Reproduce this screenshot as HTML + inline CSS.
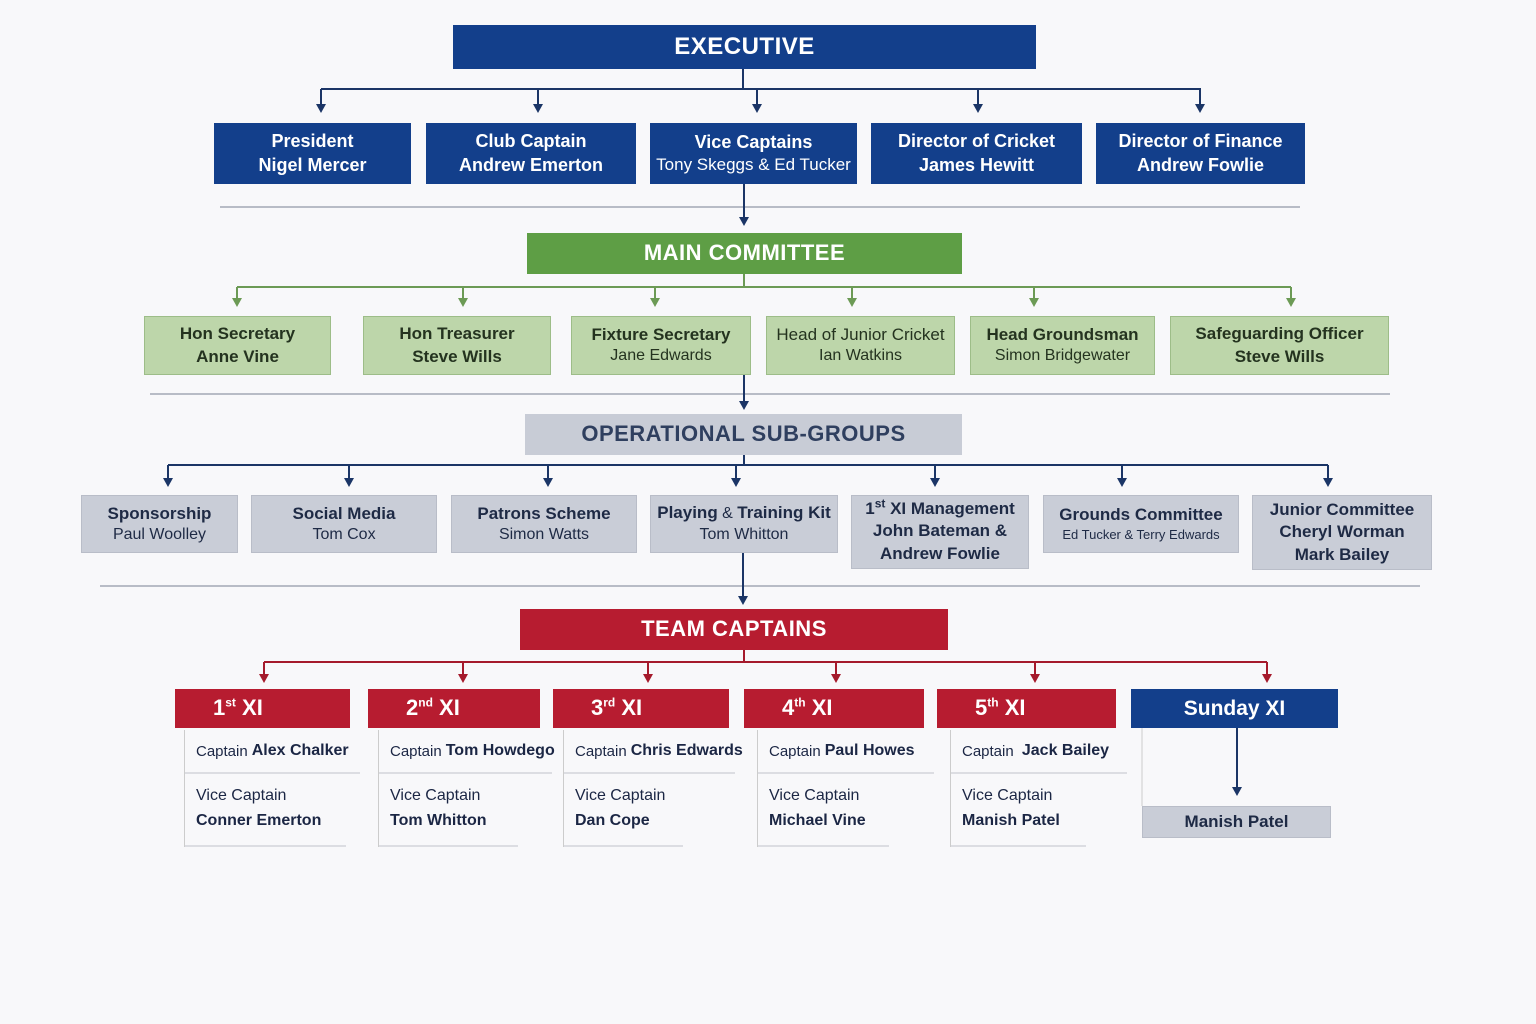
<!DOCTYPE html>
<html><head><meta charset="utf-8"><style>
body{margin:0;width:1536px;height:1024px;background:#f8f8fa;font-family:"Liberation Sans",sans-serif;position:relative;overflow:hidden}
.b{position:absolute;box-sizing:border-box;display:flex;flex-direction:column;align-items:center;justify-content:center;text-align:center;line-height:1.3}
.n{background:#133f8b;color:#fff;font-size:17px}
.n b{font-size:18px}
.g{background:#bdd6aa;border:1px solid #9dbd88;color:#24331f;font-size:16px}
.g b{font-size:17px}
.s{background:#c9cdd7;border:1px solid #b9bdc8;color:#1e2a45;font-size:16px}
.s b{font-size:17px}
.s small{font-size:13px;line-height:1.35}
.h{font-weight:bold;letter-spacing:0.5px}
.r{background:#b71c30;color:#fff;font-size:22px;font-weight:bold;align-items:flex-start;padding-left:38px}
sup{font-size:12px;line-height:0}
.c{position:absolute;box-sizing:border-box;border-left:1px solid #ccc;color:#1b2644;font-size:15px}
.c .t{height:42px;border-bottom:2px solid #dcdde2;display:flex;align-items:center;padding-left:11px;white-space:nowrap}
.c .t b{font-size:16px;margin-left:4px}
.c .v{height:62px;border-bottom:2px solid #dcdde2;padding:9px 0 0 11px;line-height:25px;font-size:16px}
</style></head><body>
<svg width="1536" height="1024" style="position:absolute;left:0;top:0">
<g stroke="#b8bcc6" stroke-width="2">
<path d="M220 207H1300M150 394H1390M100 586H1420"/>
</g>
<g stroke="#1b3566" stroke-width="2" fill="none">
<path d="M743 69V89M321 89H1201M321 89V106M538 89V106M757 89V106M978 89V106M1200 89V106"/>
<path d="M744 184V219M744 375V403M744 455V465M168 465H1328M168 465V480M349 465V480M548 465V480M736 465V480M935 465V480M1122 465V480M1328 465V480M743 553V598M1237 728V789"/>
</g>
<g fill="#1b3566">
<path d="M316 104h10l-5 9z"/><path d="M533 104h10l-5 9z"/><path d="M752 104h10l-5 9z"/><path d="M973 104h10l-5 9z"/><path d="M1195 104h10l-5 9z"/>
<path d="M739 217h10l-5 9z"/><path d="M739 401h10l-5 9z"/>
<path d="M163 478h10l-5 9z"/><path d="M344 478h10l-5 9z"/><path d="M543 478h10l-5 9z"/><path d="M731 478h10l-5 9z"/><path d="M930 478h10l-5 9z"/><path d="M1117 478h10l-5 9z"/><path d="M1323 478h10l-5 9z"/>
<path d="M738 596h10l-5 9z"/><path d="M1232 787h10l-5 9z"/>
</g>
<g stroke="#6c9a55" stroke-width="2" fill="none">
<path d="M744 274V287M237 287H1291M237 287V300M463 287V300M655 287V300M852 287V300M1034 287V300M1291 287V300"/>
</g>
<g fill="#6c9a55">
<path d="M232 298h10l-5 9z"/><path d="M458 298h10l-5 9z"/><path d="M650 298h10l-5 9z"/><path d="M847 298h10l-5 9z"/><path d="M1029 298h10l-5 9z"/><path d="M1286 298h10l-5 9z"/>
</g>
<g stroke="#a51a2c" stroke-width="2" fill="none">
<path d="M744 650V662M264 662H1267M264 662V676M463 662V676M648 662V676M836 662V676M1035 662V676M1267 662V676"/>
</g>
<g fill="#a51a2c">
<path d="M259 674h10l-5 9z"/><path d="M458 674h10l-5 9z"/><path d="M643 674h10l-5 9z"/><path d="M831 674h10l-5 9z"/><path d="M1030 674h10l-5 9z"/><path d="M1262 674h10l-5 9z"/>
</g>
<path d="M1142 728V806" stroke="#ccc" stroke-width="1"/>
</svg>

<div class="b n h" style="left:453px;top:25px;width:583px;height:44px;font-size:24px">EXECUTIVE</div>
<div class="b n" style="left:214px;top:123px;width:197px;height:61px"><b>President</b><b>Nigel Mercer</b></div>
<div class="b n" style="left:426px;top:123px;width:210px;height:61px"><b>Club Captain</b><b>Andrew Emerton</b></div>
<div class="b n" style="left:650px;top:123px;width:207px;height:61px"><b>Vice Captains</b><span>Tony Skeggs &amp; Ed Tucker</span></div>
<div class="b n" style="left:871px;top:123px;width:211px;height:61px"><b>Director of Cricket</b><b>James Hewitt</b></div>
<div class="b n" style="left:1096px;top:123px;width:209px;height:61px"><b>Director of Finance</b><b>Andrew Fowlie</b></div>

<div class="b h" style="left:527px;top:233px;width:435px;height:41px;background:#5e9e45;color:#fff;font-size:22px">MAIN COMMITTEE</div>
<div class="b g" style="left:144px;top:316px;width:187px;height:59px"><b>Hon Secretary</b><b>Anne Vine</b></div>
<div class="b g" style="left:363px;top:316px;width:188px;height:59px"><b>Hon Treasurer</b><b>Steve Wills</b></div>
<div class="b g" style="left:571px;top:316px;width:180px;height:59px"><b>Fixture Secretary</b><span>Jane Edwards</span></div>
<div class="b g" style="left:766px;top:316px;width:189px;height:59px"><span style="font-size:17px">Head of Junior Cricket</span><span>Ian Watkins</span></div>
<div class="b g" style="left:970px;top:316px;width:185px;height:59px"><b>Head Groundsman</b><span>Simon Bridgewater</span></div>
<div class="b g" style="left:1170px;top:316px;width:219px;height:59px"><b>Safeguarding Officer</b><b>Steve Wills</b></div>

<div class="b h" style="left:525px;top:414px;width:437px;height:41px;background:#c8ccd6;color:#2f3f5f;font-size:22px">OPERATIONAL SUB-GROUPS</div>
<div class="b s" style="left:81px;top:495px;width:157px;height:58px"><b>Sponsorship</b><span>Paul Woolley</span></div>
<div class="b s" style="left:251px;top:495px;width:186px;height:58px"><b>Social Media</b><span>Tom Cox</span></div>
<div class="b s" style="left:451px;top:495px;width:186px;height:58px"><b>Patrons Scheme</b><span>Simon Watts</span></div>
<div class="b s" style="left:650px;top:495px;width:188px;height:58px"><span><b>Playing</b> &amp; <b>Training Kit</b></span><span>Tom Whitton</span></div>
<div class="b s" style="left:851px;top:495px;width:178px;height:74px"><b>1<sup>st</sup> XI Management</b><small><b>John Bateman &amp;<br>Andrew Fowlie</b></small></div>
<div class="b s" style="left:1043px;top:495px;width:196px;height:58px"><b>Grounds Committee</b><small>Ed Tucker &amp; Terry Edwards</small></div>
<div class="b s" style="left:1252px;top:495px;width:180px;height:75px"><b>Junior Committee</b><small><b>Cheryl Worman<br>Mark Bailey</b></small></div>

<div class="b h" style="left:520px;top:609px;width:428px;height:41px;background:#b71c30;color:#fff;font-size:22px">TEAM CAPTAINS</div>

<div class="b r" style="left:175px;top:689px;width:175px;height:39px"><span>1<sup>st</sup> XI</span></div>
<div class="b r" style="left:368px;top:689px;width:172px;height:39px"><span>2<sup>nd</sup> XI</span></div>
<div class="b r" style="left:553px;top:689px;width:176px;height:39px"><span>3<sup>rd</sup> XI</span></div>
<div class="b r" style="left:744px;top:689px;width:180px;height:39px"><span>4<sup>th</sup> XI</span></div>
<div class="b r" style="left:937px;top:689px;width:179px;height:39px"><span>5<sup>th</sup> XI</span></div>
<div class="b n" style="left:1131px;top:689px;width:207px;height:39px;font-size:21px;font-weight:bold">Sunday XI</div>

<div class="c" style="left:184px;top:730px;width:176px">
<div class="t">Captain<b>Alex Chalker</b></div><div class="v" style="width:150px">Vice Captain<br><b>Conner Emerton</b></div></div>
<div class="c" style="left:378px;top:730px;width:174px">
<div class="t">Captain<b>Tom Howdego</b></div><div class="v" style="width:128px">Vice Captain<br><b>Tom Whitton</b></div></div>
<div class="c" style="left:563px;top:730px;width:172px">
<div class="t">Captain<b>Chris Edwards</b></div><div class="v" style="width:108px">Vice Captain<br><b>Dan Cope</b></div></div>
<div class="c" style="left:757px;top:730px;width:177px">
<div class="t">Captain<b>Paul Howes</b></div><div class="v" style="width:120px">Vice Captain<br><b>Michael Vine</b></div></div>
<div class="c" style="left:950px;top:730px;width:177px">
<div class="t">Captain&nbsp;<b>Jack Bailey</b></div><div class="v" style="width:124px">Vice Captain<br><b>Manish Patel</b></div></div>

<div class="b s" style="left:1142px;top:806px;width:189px;height:32px"><b>Manish Patel</b></div>
</body></html>
